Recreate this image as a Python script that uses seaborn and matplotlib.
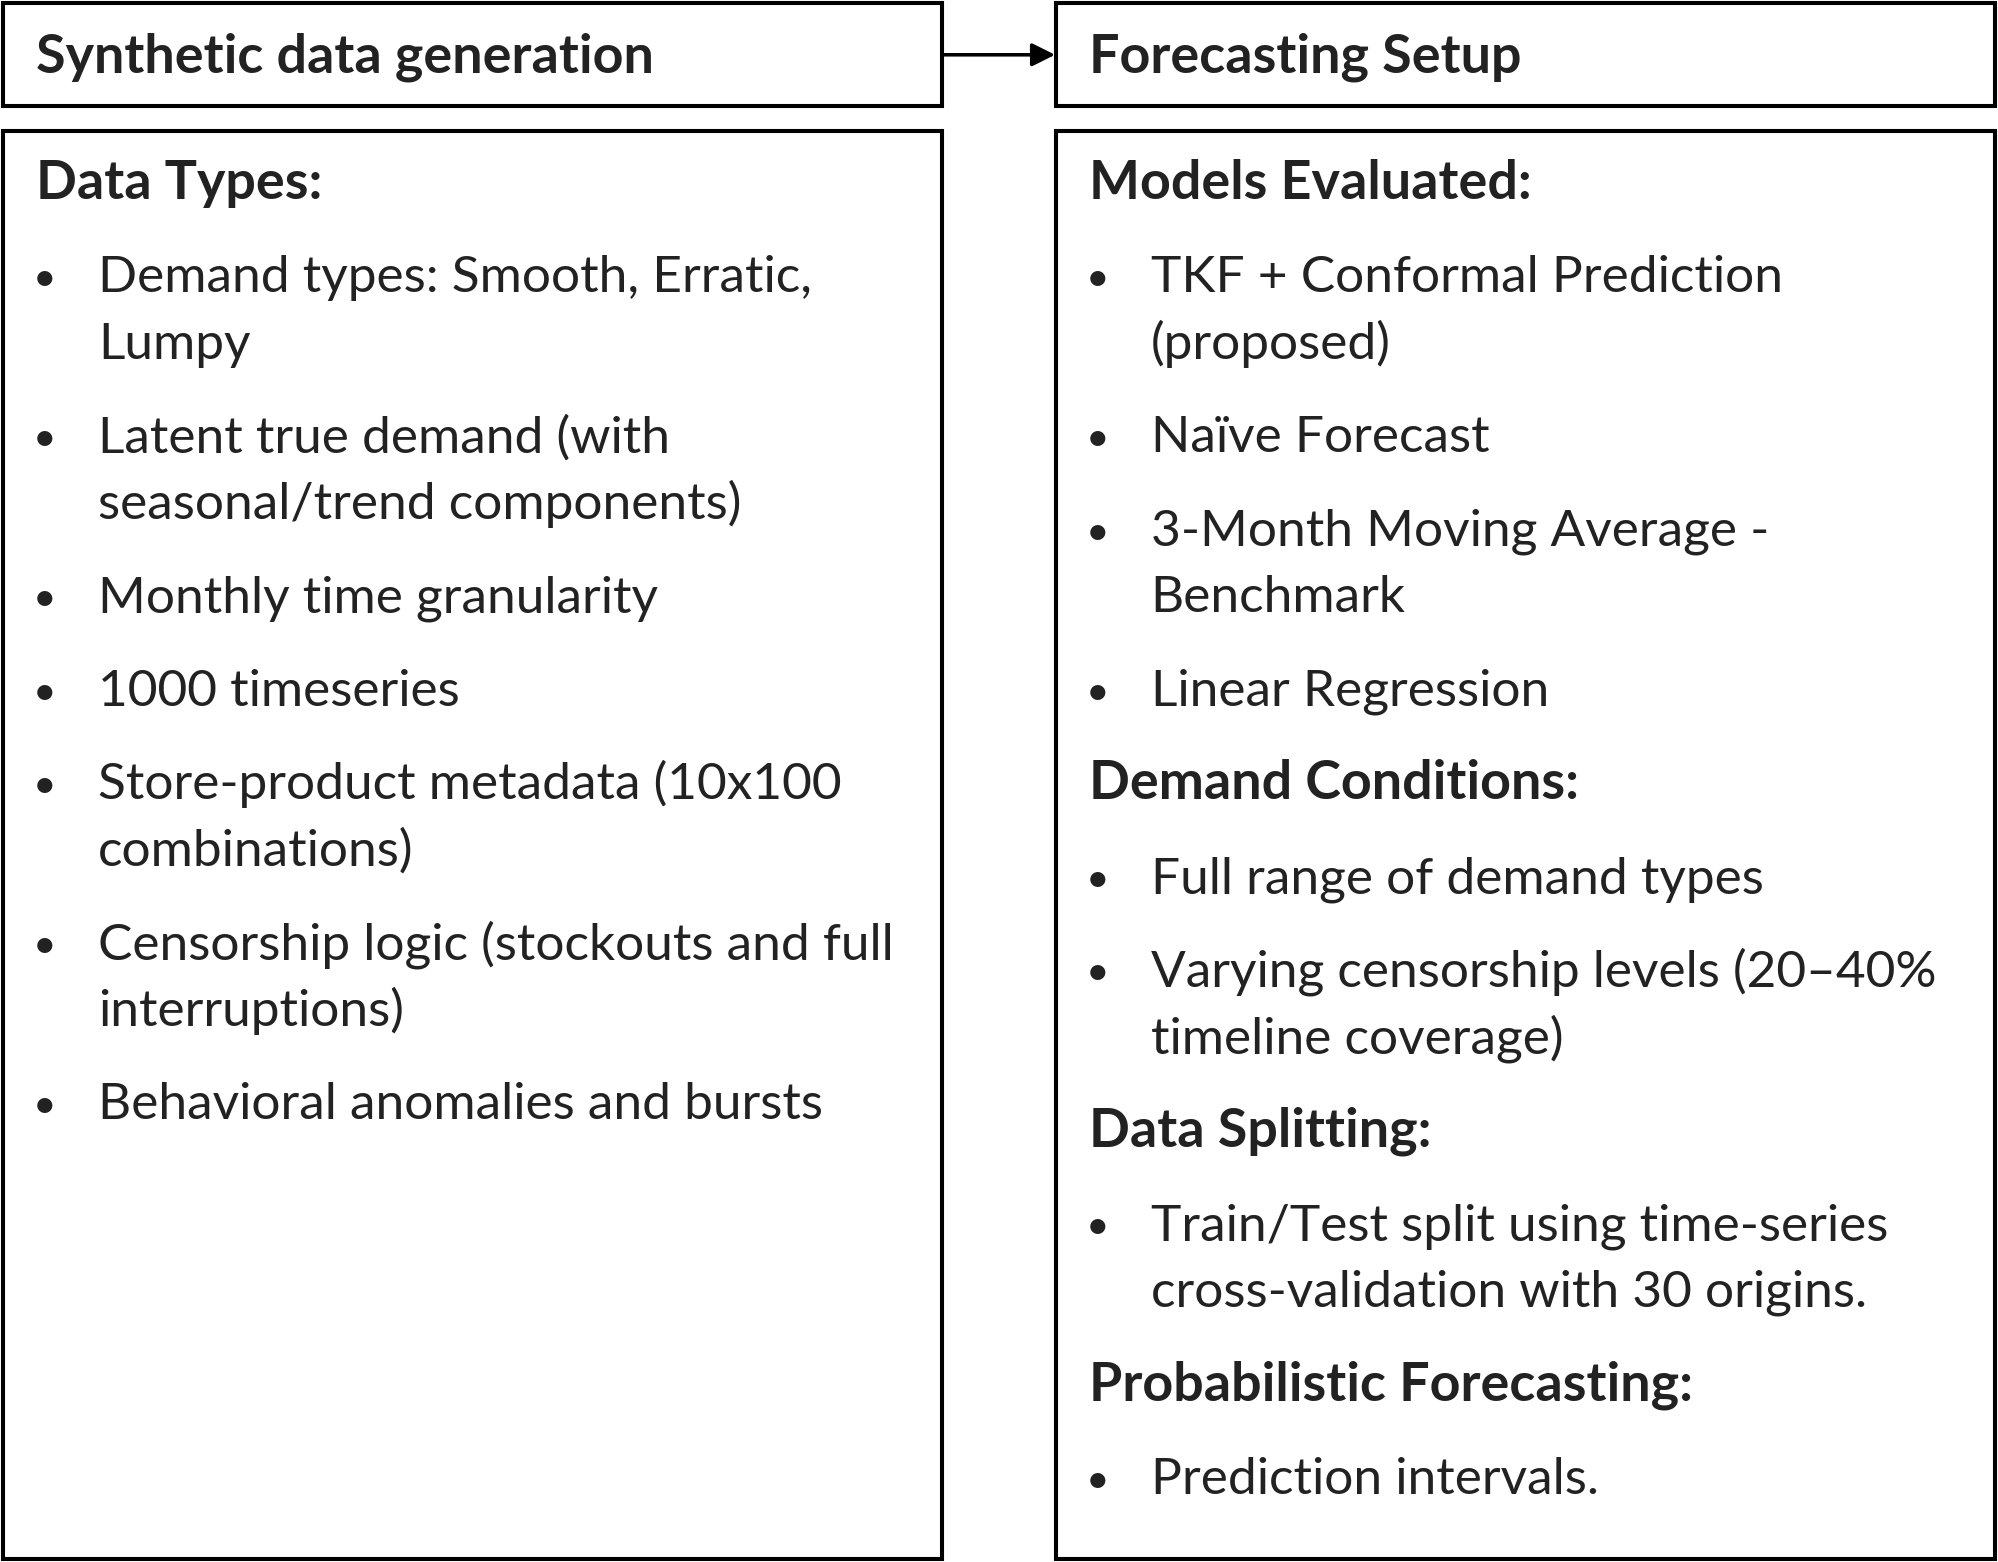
import matplotlib
matplotlib.use("Agg")
import matplotlib.pyplot as plt
import seaborn as sns
from matplotlib.patches import Rectangle, FancyArrowPatch

sns.set_theme(style="white")
plt.rcParams['font.family'] = ['Lato', 'DejaVu Sans']

left_title = "Synthetic data generation"
right_title = "Forecasting Setup"

left_sections = [
    ("Data Types:", [
        ["Demand types: Smooth, Erratic,", "Lumpy"],
        ["Latent true demand (with", "seasonal/trend components)"],
        ["Monthly time granularity"],
        ["1000 timeseries"],
        ["Store-product metadata (10x100", "combinations)"],
        ["Censorship logic (stockouts and full", "interruptions)"],
        ["Behavioral anomalies and bursts"],
    ]),
]

right_sections = [
    ("Models Evaluated:", [
        ["TKF + Conformal Prediction", "(proposed)"],
        ["Naïve Forecast"],
        ["3-Month Moving Average -", "Benchmark"],
        ["Linear Regression"],
    ]),
    ("Demand Conditions:", [
        ["Full range of demand types"],
        ["Varying censorship levels (20\u201340%", "timeline coverage)"],
    ]),
    ("Data Splitting:", [
        ["Train/Test split using time-series", "cross-validation with 30 origins."],
    ]),
    ("Probabilistic Forecasting:", [
        ["Prediction intervals."],
    ]),
]

W, H = 1568, 1226
SC = 1998 / W
fig = plt.figure(figsize=(19.98, 15.62), dpi=100)
ax = fig.add_axes([0, 0, 1, 1])
ax.set_xlim(0, W)
ax.set_ylim(H, 0)
ax.axis("off")

def px2pt(p):
    return p * SC * 72 / 100

FS = px2pt(40.3)
FSB = px2pt(42.3)
FSBUL = px2pt(32)
TXT = "#222222"
LW = px2pt(3.2)

def box(x0, y0, x1, y1):
    ax.add_patch(Rectangle((x0, y0), x1 - x0, y1 - y0, fill=False,
                           edgecolor="black", linewidth=LW))

box(2.5, 2.5, 739.5, 83.5)
box(828.5, 2.5, 1565.5, 83.5)
box(2.5, 102.5, 739.5, 1223.5)
box(828.5, 102.5, 1565.5, 1223.5)

ax.add_patch(FancyArrowPatch((741, 43), (828, 43), arrowstyle="-|>",
                             mutation_scale=px2pt(38), color="black",
                             linewidth=px2pt(2.8), shrinkA=0, shrinkB=0))

ax.text(28, 57, left_title, fontsize=FSB, fontweight="bold", color=TXT, va="baseline")
ax.text(855, 57, right_title, fontsize=FSB, fontweight="bold", color=TXT, va="baseline")

def draw_sections(sections, x_head, x_bullet, x_text):
    y = 156
    for head, items in sections:
        ax.text(x_head, y, head, fontsize=FSB, fontweight="bold", color=TXT, va="baseline")
        y += 73.5
        for lines in items:
            ax.text(x_bullet, y - 1, "\u2022", fontsize=FSBUL, color=TXT, va="baseline")
            for i, ln in enumerate(lines):
                ax.text(x_text, y + i * 52, ln, fontsize=FS, color=TXT, va="baseline")
            y += 52 * (len(lines) - 1) + 73.5

draw_sections(left_sections, 28, 26, 77)
draw_sections(right_sections, 855, 852, 903)

fig.savefig("out.png", dpi=100, facecolor="white")
